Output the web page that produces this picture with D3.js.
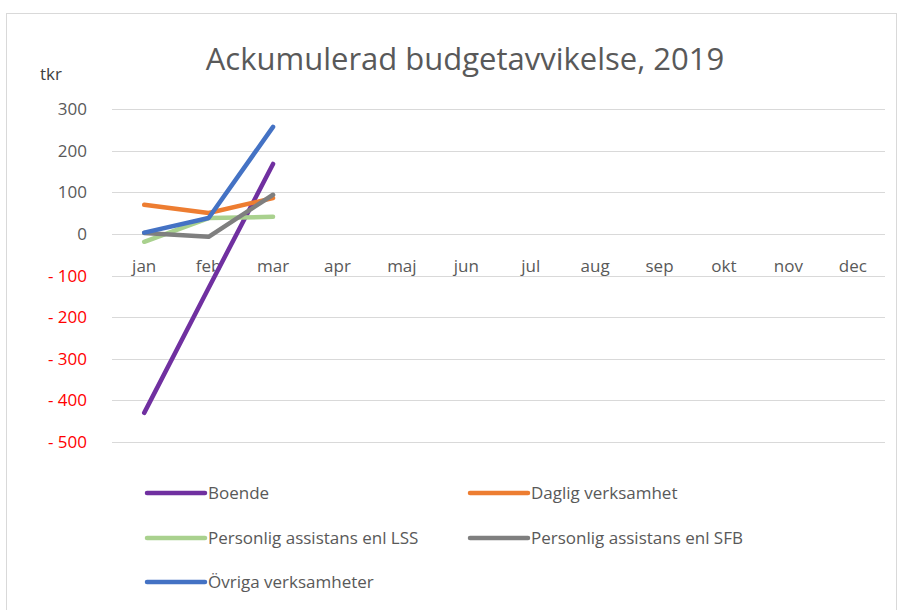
<!DOCTYPE html>
<html>
<head>
<meta charset="utf-8">
<script src="https://cdn.jsdelivr.net/npm/d3@7"></script>
<style>
  body { margin: 0; background: #fff; }
  text { font-family: "Open Sans", "Liberation Sans", sans-serif; }
</style>
</head>
<body>
<svg id="chart"></svg>
<script>
var months = ["jan", "feb", "mar", "apr", "maj", "jun", "jul", "aug", "sep", "okt", "nov", "dec"];
var yTicks = [300, 200, 100, 0, -100, -200, -300, -400, -500];

var boende = [-430, -130, 168];
var daglig = [70, 50, 86];
var lss = [-19, 38, 41];
var sfb = [2, -7, 94];
var ovriga = [3, 38, 257];

var seriesNames = ["Boende", "Daglig verksamhet", "Personlig assistans enl LSS", "Personlig assistans enl SFB", "Övriga verksamheter"];
var seriesValues = [boende, daglig, lss, sfb, ovriga];
var seriesColors = ["#7030a0", "#ed7d31", "#a9d18e", "#7f7f7f", "#4472c4"];

var totalWidth = 901;
var totalHeight = 610;

var svg = d3.select("#chart")
    .attr("width", totalWidth)
    .attr("height", totalHeight);

// chart frame
svg.append("rect")
    .attr("x", 6.5).attr("y", 13.5)
    .attr("width", 890).attr("height", 610)
    .attr("fill", "#fff")
    .attr("stroke", "#d9d9d9");

var x = d3.scaleBand().domain(months).range([112, 885]);
var y = d3.scaleLinear().domain([-500, 300]).range([442, 109]);

// gridlines
svg.append("g")
    .selectAll("line")
    .data(yTicks)
    .enter()
    .append("line")
    .attr("x1", 112).attr("x2", 885)
    .attr("y1", function (d) { return Math.round(y(d)) + 0.5; })
    .attr("y2", function (d) { return Math.round(y(d)) + 0.5; })
    .attr("stroke", "#d9d9d9")
    .attr("stroke-width", 1);

// y axis labels
svg.append("g")
    .selectAll("text")
    .data(yTicks)
    .enter()
    .append("text")
    .attr("x", 87)
    .attr("y", function (d) { return y(d) + 6; })
    .attr("text-anchor", "end")
    .attr("font-size", 17)
    .attr("fill", function (d) { return d < 0 ? "#ff0000" : "#595959"; })
    .text(function (d) { return d < 0 ? "- " + Math.abs(d) : d; });

// month labels
svg.append("g")
    .selectAll("text")
    .data(months)
    .enter()
    .append("text")
    .attr("x", function (d) { return x(d) + x.bandwidth() / 2; })
    .attr("y", 272)
    .attr("text-anchor", "middle")
    .attr("font-size", 17)
    .attr("fill", "#595959")
    .text(function (d) { return d; });

// title
svg.append("text")
    .attr("x", 465).attr("y", 70)
    .attr("text-anchor", "middle")
    .attr("font-size", 31)
    .attr("fill", "#595959")
    .text("Ackumulerad budgetavvikelse, 2019");

svg.append("text")
    .attr("x", 40).attr("y", 80)
    .attr("font-size", 17)
    .attr("fill", "#404040")
    .text("tkr");

// lines
var line = d3.line()
    .x(function (d, i) { return x(months[i]) + x.bandwidth() / 2; })
    .y(function (d) { return y(d); });

seriesValues.forEach(function (vals, i) {
    svg.append("path")
        .datum(vals)
        .attr("d", line)
        .attr("fill", "none")
        .attr("stroke", seriesColors[i])
        .attr("stroke-width", 4.5)
        .attr("stroke-linejoin", "round")
        .attr("stroke-linecap", "round");
});

// legend
var legendPos = [[147, 493], [470, 493], [147, 538], [470, 538], [147, 582]];
seriesNames.forEach(function (name, i) {
    var g = svg.append("g")
        .attr("transform", "translate(" + legendPos[i][0] + "," + legendPos[i][1] + ")");
    g.append("line")
        .attr("x1", 0).attr("x2", 58)
        .attr("y1", 0).attr("y2", 0)
        .attr("stroke", seriesColors[i])
        .attr("stroke-width", 4.5)
        .attr("stroke-linecap", "round");
    g.append("text")
        .attr("x", 61).attr("y", 6)
        .attr("font-size", 17)
        .attr("fill", "#595959")
        .text(name);
});
</script>
</body>
</html>
